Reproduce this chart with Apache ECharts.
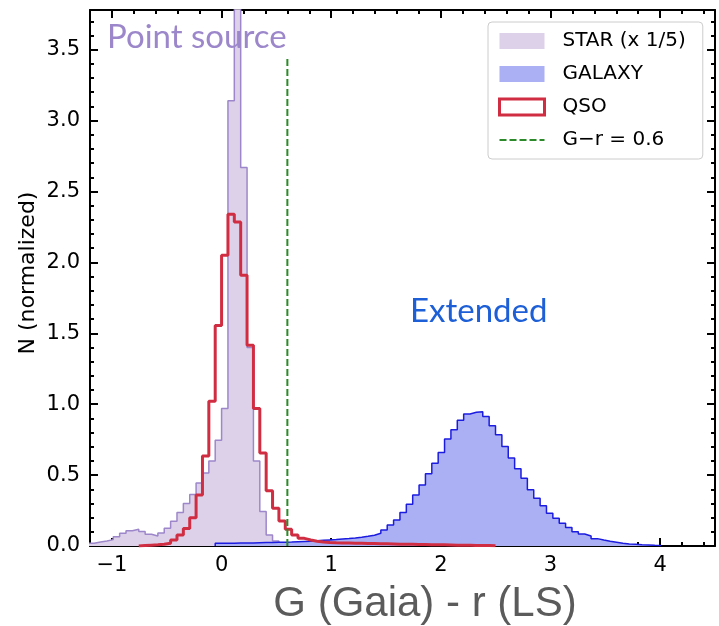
<!DOCTYPE html>
<html><head><meta charset="utf-8">
<script src="https://cdn.jsdelivr.net/npm/echarts@6/dist/echarts.min.js"></script>
<style>html,body{margin:0;padding:0;background:#fff}#chart{width:719px;height:626px}</style>
</head><body><div id="chart"></div>
<script>
// ---- data (histogram bins: edges at k * BIN_WIDTH) ----
const BIN_WIDTH = 0.0581;
const starFirstBin = -21;
const starValues = [0.02, 0.028, 0.036, 0.045, 0.066, 0.09, 0.107, 0.118, 0.102, 0.083, 0.07,
  0.092, 0.126, 0.174, 0.237, 0.30, 0.364, 0.445, 0.515, 0.60, 0.745,
  0.97, 3.14, 4.6, 2.67, 1.40, 0.60, 0.243, 0.078, 0.035, 0.015, 0.006];
const qsoFirstBin = -13;
const qsoValues = [0.004, 0.006, 0.008, 0.012, 0.02, 0.042, 0.078, 0.124, 0.20, 0.36, 0.635, 1.02, 1.555,
  2.05, 2.34, 2.285, 1.91, 1.415, 0.97, 0.655, 0.39, 0.266, 0.177, 0.118, 0.078, 0.054, 0.042,
  0.033, 0.028, 0.025, 0.023, 0.022, 0.021, 0.02, 0.019, 0.018, 0.017, 0.016, 0.015, 0.014, 0.013,
  0.012, 0.012, 0.011, 0.01, 0.009, 0.008, 0.008, 0.007, 0.006, 0.005, 0.005, 0.004, 0.003, 0.003, 0.002];
const galaxyFirstBin = -1;
const galaxyValues = [0.02, 0.02, 0.02, 0.021, 0.022, 0.022, 0.023, 0.024, 0.025, 0.026, 0.027, 0.028,
  0.03, 0.032, 0.034, 0.037, 0.04, 0.043, 0.046, 0.05, 0.053, 0.057, 0.062, 0.068, 0.076,
  0.09, 0.113, 0.148, 0.184, 0.237, 0.294, 0.36, 0.431, 0.509, 0.584, 0.66, 0.754, 0.82, 0.886,
  0.931, 0.943, 0.947, 0.914, 0.848, 0.784, 0.702, 0.62, 0.544, 0.478, 0.396, 0.337, 0.283,
  0.231, 0.196, 0.16, 0.13, 0.101, 0.085, 0.071, 0.052, 0.042, 0.033, 0.026, 0.019, 0.014,
  0.012, 0.008, 0.007, 0.005, 0.004];
const cutX = [0.6, 0.6];
const cutY = [0, 3.45];
const xTickLabels = [-1, 0, 1, 2, 3, 4];
const xMinorTicks = [-1.2, -0.8, -0.6, -0.4, -0.2, 0.2, 0.4, 0.6, 0.8, 1.2, 1.4, 1.6, 1.8, 2.2, 2.4, 2.6, 2.8,
  3.2, 3.4, 3.6, 3.8, 4.2, 4.4];
const yTickLabels = [0, 0.5, 1, 1.5, 2, 2.5, 3, 3.5];
const yMinorTicks = [0.1, 0.2, 0.3, 0.4, 0.6, 0.7, 0.8, 0.9, 1.1, 1.2, 1.3, 1.4, 1.6, 1.7, 1.8, 1.9,
  2.1, 2.2, 2.3, 2.4, 2.6, 2.7, 2.8, 2.9, 3.1, 3.2, 3.3, 3.4, 3.6, 3.7];
const seriesNames = ['STAR (x 1/5)', 'GALAXY', 'QSO', 'G\u2212r = 0.6'];

const X_MIN = -1.2, X_MAX = 4.5, Y_MIN = 0, Y_MAX = 3.78;

function stepPoints(firstBin, values) {
  const pts = [[firstBin * BIN_WIDTH, 0]];
  values.forEach((v, i) => pts.push([(firstBin + i) * BIN_WIDTH, v]));
  const last = (firstBin + values.length) * BIN_WIDTH;
  pts.push([last, values[values.length - 1]]);
  pts.push([last, 0]);
  return pts;
}

const C = {
  starFill: '#dcd1e8', starLine: '#9d87ca',
  galFill: '#aab0f3', galLine: '#1c1ce0',
  qso: '#d12d42', cut: '#2d8a2a'
};
const FONT = 'DejaVu Sans';
const tickStyle = {color: '#000', width: 2};

function xAx(pos, ticks, len, major) {
  return {
    type: 'value', min: X_MIN, max: X_MAX, position: pos, gridIndex: 0,
    axisLine: {show: major, onZero: false, lineStyle: {color: '#000', width: 2}},
    axisTick: {show: true, inside: true, length: len, customValues: ticks, lineStyle: tickStyle},
    axisLabel: (major && pos === 'bottom') ? {
      show: true, customValues: xTickLabels, margin: 9, color: '#000', fontSize: 21, fontFamily: FONT,
      formatter: v => (v < 0 ? '\u2212' + Math.abs(v) : String(v))
    } : {show: false},
    splitLine: {show: false}
  };
}
function yAx(pos, ticks, len, major) {
  return {
    type: 'value', min: Y_MIN, max: Y_MAX, position: pos, gridIndex: 0,
    axisLine: {show: major, onZero: false, lineStyle: {color: '#000', width: 2}},
    axisTick: {show: true, inside: true, length: len, customValues: ticks, lineStyle: tickStyle},
    axisLabel: (major && pos === 'left') ? {
      show: true, customValues: yTickLabels, margin: 10, color: '#000', fontSize: 21, fontFamily: FONT,
      formatter: v => v.toFixed(1)
    } : {show: false},
    splitLine: {show: false}
  };
}

const chart = echarts.init(document.getElementById('chart'), null, {renderer: 'canvas'});
chart.setOption({
  animation: false,
  backgroundColor: '#fff',
  grid: {left: 90, right: 4, top: 10, bottom: 80, containLabel: false},
  xAxis: [xAx('bottom', xTickLabels, 8, true), xAx('bottom', xMinorTicks, 4, false),
          xAx('top', xTickLabels, 8, true), xAx('top', xMinorTicks, 4, false)],
  yAxis: [yAx('left', yTickLabels, 8, true), yAx('left', yMinorTicks, 4, false),
          yAx('right', yTickLabels, 8, true), yAx('right', yMinorTicks, 4, false)],
  legend: {
    orient: 'vertical', left: 488, top: 22, padding: [9, 17, 9, 10],
    itemWidth: 45, itemHeight: 16, itemGap: 13,
    backgroundColor: 'rgba(255,255,255,0.85)', borderColor: '#cccccc', borderWidth: 1, borderRadius: 4,
    textStyle: {fontFamily: FONT, fontSize: 20, color: '#000', padding: [0, 0, 0, 13], lineHeight: 20},
    selectedMode: false,
    data: [
      {name: seriesNames[0], icon: 'rect', itemStyle: {color: C.starFill, borderWidth: 0}},
      {name: seriesNames[1], icon: 'rect', itemStyle: {color: C.galFill, borderWidth: 0}},
      {name: seriesNames[2], icon: 'rect', itemStyle: {color: '#ffffff', borderColor: C.qso, borderWidth: 3}},
      {name: seriesNames[3], itemStyle: {opacity: 0, color: 'rgba(0,0,0,0)', borderWidth: 0},
       lineStyle: {color: C.cut, width: 2, type: [7, 3]}}
    ]
  },
  graphic: [
    {type: 'text', left: 107, top: 21, z: 10,
     style: {text: 'Point source', fill: '#9c87cb', font: '33px Lato'}},
    {type: 'text', left: 410, top: 295, z: 10,
     style: {text: 'Extended', fill: '#1d5fd6', font: '33px Lato'}},
    {type: 'text', x: 425, y: 604, z: 10,
     style: {text: 'G (Gaia) - r (LS)', fill: '#5b5b5b', font: '42px "Liberation Sans"', textAlign: 'center', textVerticalAlign: 'middle'}},
    {type: 'text', x: 28, y: 273, rotation: Math.PI / 2, z: 10,
     style: {text: 'N (normalized)', fill: '#000', font: '22px "DejaVu Sans"', textAlign: 'center', textVerticalAlign: 'middle'}}
  ],
  series: [
    {name: seriesNames[0], type: 'line', step: 'end', data: stepPoints(starFirstBin, starValues),
     symbol: 'none', clip: true, z: 1,
     itemStyle: {color: C.starFill}, lineStyle: {color: C.starLine, width: 1.5},
     areaStyle: {color: C.starFill, opacity: 1}},
    {name: seriesNames[1], type: 'line', step: 'end', data: stepPoints(galaxyFirstBin, galaxyValues),
     symbol: 'none', clip: true, z: 2,
     itemStyle: {color: C.galFill}, lineStyle: {color: C.galLine, width: 1.5},
     areaStyle: {color: C.galFill, opacity: 1}},
    {name: seriesNames[2], type: 'line', step: 'end', data: stepPoints(qsoFirstBin, qsoValues),
     symbol: 'none', clip: true, z: 3,
     itemStyle: {color: C.qso}, lineStyle: {color: C.qso, width: 3}},
    {name: seriesNames[3], type: 'line', data: cutX.map((x, i) => [x, cutY[i]]),
     symbol: 'none', clip: true, z: 4,
     itemStyle: {color: C.cut}, lineStyle: {color: C.cut, width: 2, type: [7, 3]}}
  ]
});
</script></body></html>
